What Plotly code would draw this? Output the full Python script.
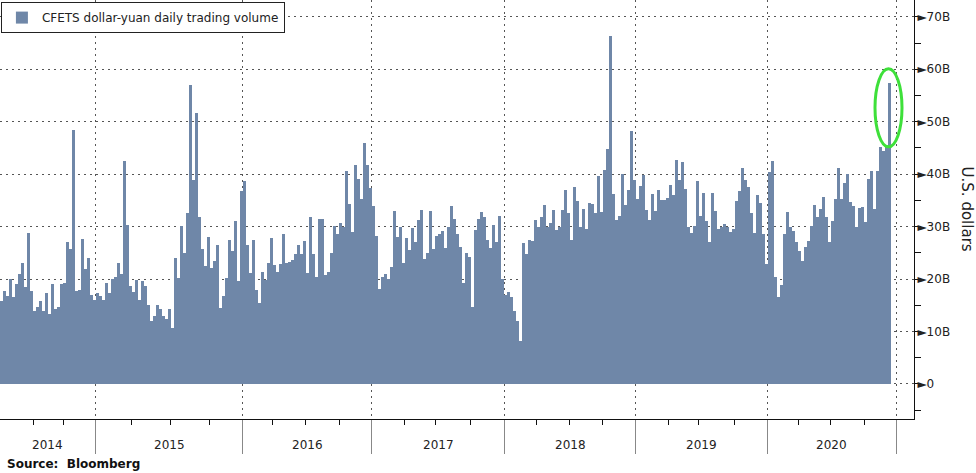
import plotly.graph_objects as go

# ---- data (billions of US dollars), one bar per sampled trading period ----
volume_bn = [
    15.8, 17.8, 16.8, 20, 16.5, 19, 21, 23, 18.4, 28.7,
    17.7, 14, 14.7, 15.8, 14, 17.4, 13.3, 19, 14.2, 14.7,
    19, 19.2, 27, 25.8, 48.5, 17.7, 18, 27.7, 22, 24,
    17, 16.1, 17.4, 16.8, 16.1, 19.3, 17.4, 20, 20.3, 23,
    20.9, 42.5, 30.4, 18.7, 17.5, 19.9, 16, 19.7, 18.6, 15.1,
    12, 13, 15.1, 14.3, 13, 12.3, 14.3, 10.7, 24, 20.2,
    30.2, 25, 32.6, 57, 38.9, 51.6, 31.9, 25.7, 22.4, 28.1,
    22.1, 23.4, 26.5, 14.5, 16.7, 20.2, 27.5, 25.3, 31, 19.6,
    36.7, 38.6, 26.5, 21.1, 27.5, 17.9, 15.5, 21.4, 19.8, 23,
    27.9, 22.6, 21.4, 22.8, 28.5, 23, 23.3, 23.6, 24.8, 26.4,
    24.8, 27.2, 21.1, 31.9, 24.8, 20.4, 31.4, 31.4, 20.8, 21.4,
    25, 30.2, 28.6, 30.6, 29.9, 40.6, 34.3, 28.9, 41.8, 39,
    35.2, 45.9, 41.8, 37.4, 34, 28.3, 18.2, 20.4, 21, 20,
    22.3, 33, 28, 30, 23, 27.9, 25.5, 29.8, 27.1, 31.2,
    33.2, 23.9, 25, 32.9, 25.8, 28.2, 28.5, 29.1, 26, 29.9,
    34, 31.5, 28.5, 26.1, 19.2, 24.9, 24.2, 14.7, 29.3, 31.5,
    32.8, 31.8, 27.4, 26, 30.3, 27, 32, 20, 17, 17.6,
    16.6, 14, 12, 8.1, 26.9, 24.8, 27.4, 27.3, 31.3, 29.9,
    31.8, 34.1, 29.9, 30.6, 33.2, 29.3, 29.9, 33.2, 36.9, 32.5,
    27.4, 37.5, 34.8, 30, 33.4, 29.6, 34.5, 34.4, 32.6, 39.6,
    32.8, 40.7, 44.8, 66.3, 36.3, 31.2, 32, 40.1, 34.1, 36.9,
    48.3, 38.8, 35.3, 37.7, 39.9, 33.2, 31.3, 36.3, 33, 37,
    35, 35, 35.4, 38, 36, 42.7, 38.9, 42.4, 37.1, 30,
    28.8, 30.1, 38.7, 32, 36.4, 31, 27, 36.5, 33, 29.5,
    30, 30.5, 30, 29, 29.5, 34.9, 36.7, 41.1, 38.9, 37.5,
    32.6, 28.8, 36.1, 34.5, 28.5, 22.8, 40.5, 42.5, 20.4, 16.5,
    18.8, 28.6, 32.7, 29.9, 29.2, 27, 25.4, 23.5, 26.1, 27.3,
    30.2, 34.2, 31.9, 33.4, 35.7, 31.8, 27, 31.1, 35.3, 41.1,
    35.3, 38.4, 40.1, 34.6, 34, 29.9, 33.5, 33.7, 30.8, 39,
    40.6, 33.4, 40.6, 45.1, 44.4, 45.1, 57.4,
]
period_index = list(range(len(volume_bn)))

years = ["2014", "2015", "2016", "2017", "2018", "2019", "2020"]
# period index at which each year ends (boundary between years)
year_ends = [31.5, 80.2, 123.5, 167.8, 211.5, 255.2, 298.5]
quarter_marks = [10.5, 20.8, 43.5, 56.5, 69.2, 90.5, 101.5, 112.8, 134.2, 144.8,
                 156.5, 178.5, 189.2, 200.5, 222.2, 232.5, 244.5, 265.8, 276.2, 287.8]
y_ticks = [0, 10, 20, 30, 40, 50, 60, 70]
y_ticktext = ["0", "10B", "20B", "30B", "40B", "50B", "60B", "70B"]

BAR = "#6F87A8"
FONT = "DejaVu Sans"
X_MIN, X_MAX = -0.5, 304.2

fig = go.Figure()
fig.add_trace(go.Bar(
    x=period_index, y=volume_bn, name="CFETS dollar-yuan daily trading volume",
    marker=dict(color=BAR, line=dict(width=0)), showlegend=True,
))

year_starts = [X_MIN] + year_ends[:-1]
for yr, a, b in zip(years, year_starts, year_ends):
    fig.add_annotation(x=(a + b) / 2, y=-0.062, xref="x", yref="paper", text=yr,
                       showarrow=False, font=dict(family=FONT, size=12, color="#222"),
                       yanchor="middle")

fig.add_annotation(x=0.006, y=-0.108, xref="paper", yref="paper",
                   text="<b>Source:  Bloomberg</b>", showarrow=False,
                   xanchor="left", yanchor="middle",
                   font=dict(family=FONT, size=12, color="#111"))

fig.add_annotation(x=1.071, y=0.5, xref="paper", yref="paper", text="U.S. dollars",
                   textangle=90, showarrow=False,
                   font=dict(family=FONT, size=15, color="#222"))

# highlight ellipse around the latest spike
fig.add_shape(type="circle", xref="x", yref="y", x0=291.2, x1=300.2, y0=45.2, y1=60.1,
              line=dict(color="#3EE03A", width=3))

fig.update_layout(
    width=976, height=473,
    margin=dict(l=0, r=62, t=0, b=54, autoexpand=False),
    paper_bgcolor="white", plot_bgcolor="white",
    bargap=0,
    font=dict(family=FONT, size=12, color="#222"),
    legend=dict(x=0.001, y=0.995, xanchor="left", yanchor="top",
                bgcolor="white", bordercolor="#222", borderwidth=1,
                font=dict(family=FONT, size=12, color="#222"),
                itemwidth=30, tracegroupgap=0),
    xaxis=dict(range=[X_MIN, X_MAX], tickmode="array", tickvals=year_ends,
               showticklabels=False, ticks="outside", ticklen=34, tickcolor="#888",
               tickwidth=1, showgrid=True, gridcolor="#555", griddash="2px,4px",
               gridwidth=1, showline=True, linecolor="#111", linewidth=1,
               zeroline=False,
               minor=dict(tickmode="array", tickvals=quarter_marks, ticks="outside",
                          ticklen=5, tickcolor="#111", showgrid=False)),
    yaxis=dict(side="right", range=[-6.68, 73.2], tickmode="array", tickvals=y_ticks,
               ticktext=["\u25BA" + t for t in y_ticktext], ticks="",
               showgrid=True, gridcolor="#555", griddash="2px,4px", gridwidth=1,
               zeroline=False, showline=True, linecolor="#111", linewidth=1,
               tickfont=dict(family=FONT, size=12, color="#222"),
               minor=dict(dtick=5, tick0=0, ticks="outside", ticklen=6,
                          tickcolor="#111", showgrid=False)),
)

fig.write_html("out.html", config={"displayModeBar": False},
               post_script="document.body.style.margin='0';document.body.style.padding='0';")
